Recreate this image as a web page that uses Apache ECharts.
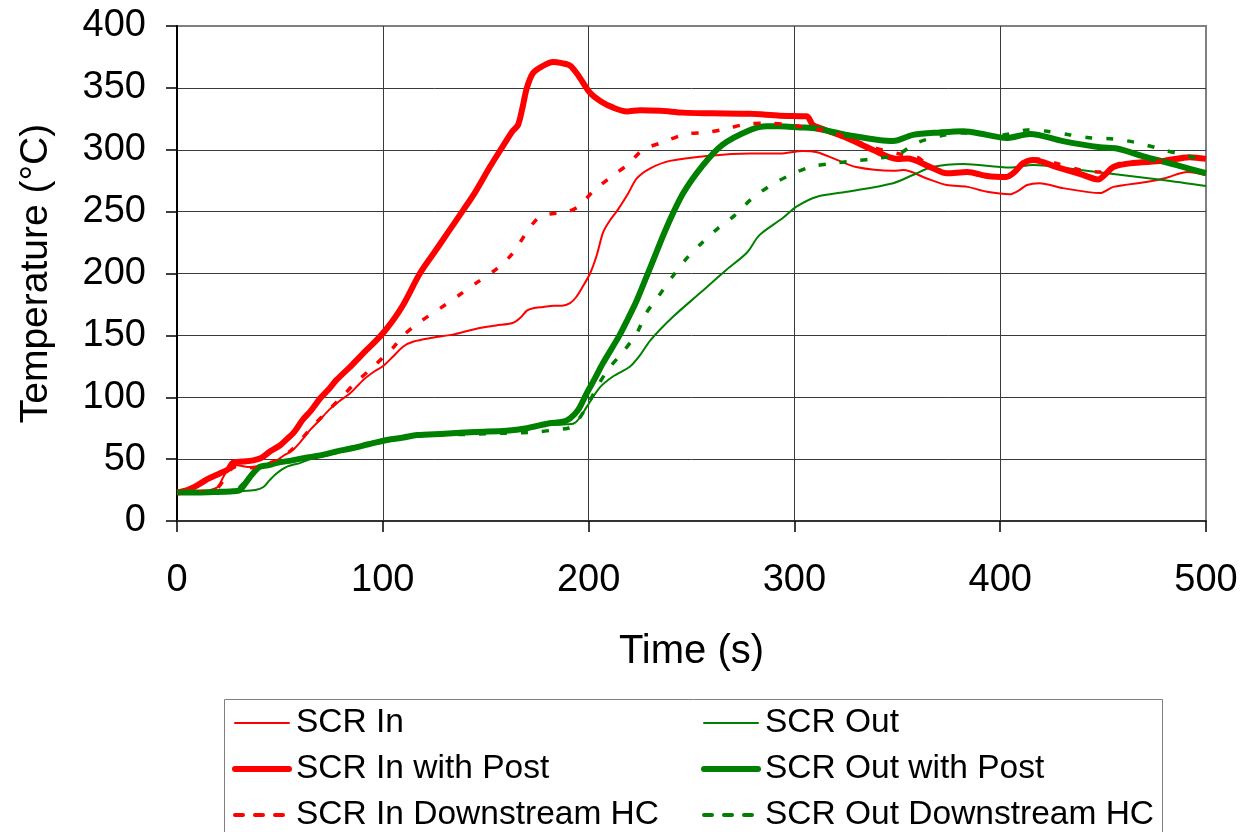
<!DOCTYPE html>
<html>
<head>
<meta charset="utf-8">
<script src="https://cdn.jsdelivr.net/npm/echarts@6/dist/echarts.min.js"></script>
<style>
html,body{margin:0;padding:0;background:#fff;}
#chart{width:1260px;height:832px;}
</style>
</head>
<body>
<div id="chart"></div>
<script>
// ---- Data (time in s, temperature in °C) ----
const xTicks = [0, 100, 200, 300, 400, 500];
const yTicks = [0, 50, 100, 150, 200, 250, 300, 350, 400];

const seriesNames = ["SCR In", "SCR Out", "SCR In with Post", "SCR Out with Post", "SCR In Downstream HC", "SCR Out Downstream HC"];

const scrIn = [[0,23],[10,23.5],[19.4,27],[22.5,35.6],[25,42],[29,45],[35.5,43.6],[40,43.6],[44,45],[48.5,49],[52,53],[56,57],[60,64],[64.6,73.5],[69,81],[74,90],[79,97],[84,103],[90.5,114],[96,121],[100,125],[105,133],[110,141],[115,145],[124,148],[135,151],[147,156],[155,158],[163,160],[166.7,164],[170,170],[173,172],[178,173],[183,174],[187,174],[191,176],[194,181],[197,189],[200.7,200],[204,215],[207,233],[210,242],[214,251],[219,264],[223.5,277],[230,285],[239.5,291],[257.5,295],[278.5,297],[293,297],[304,299],[311,298],[319,293],[330,286],[348,283],[353,283.6],[364,277],[374,271.5],[384,270],[393.6,266],[404.7,264],[409,267],[413,271.5],[419,273],[430.5,269],[448.5,265],[455,270],[471,274],[480,277],[491,282],[500,279.6]];

const scrOut = [[0,23],[10,23],[20,23],[30,24],[38,25],[42,27.5],[45,33],[48.5,38.6],[53,43.6],[60,47],[65,50],[75,54],[85,59],[100,65],[110,68],[120,70],[140,71],[160,73],[170,75],[181,77.6],[188,78],[193,79],[196,84],[199,92],[205.5,108],[212,117],[220,124.6],[225,134],[230,146],[241,165],[254,184],[267,203],[277,217],[283,231],[294.5,245],[301,254],[311,262],[325.5,266],[348,273],[357.6,279.6],[367,286],[382,288.5],[404.7,285.6],[416,287.6],[439,283.6],[455,280.4],[479,275.6],[500,270.7]];

const scrInPost = [[0,23],[5,25],[10,29],[15,34],[21,38.6],[25,42],[27,47],[32,48],[37,49],[41,51],[45,56],[50,61],[53,65.5],[57,72],[61,81.6],[65,89],[69.5,99],[73.5,106],[77.5,114],[85,126],[92,138],[98.6,149],[104,160],[110,175],[118,200],[125,217],[132,234],[139,251],[145,266],[152,286],[158,302],[163,315],[165.7,320],[168,335],[170,350],[173,362],[177,367],[182.7,371],[187,370],[191,368],[195,360],[200.7,346],[206,339],[212,334],[218.6,331],[225,332],[235,331.5],[246,330],[260,329.5],[278.5,329],[293,327.5],[306,327],[309,320],[315,316],[325.5,309.5],[338,300],[350,292.6],[355,293],[366,286],[374,281],[384,282],[393.6,278.8],[403,278],[407,282],[411,289],[416,291.7],[427.5,286],[439,280.4],[447.6,276],[451,280],[455,286],[463,289],[479,291],[492,294],[500,292.6]];

const scrOutPost = [[0,23],[10,23],[20,23.5],[27,24],[30.6,25],[33,30],[35.5,35.6],[40,43.6],[44,45],[48.5,47],[56,49],[62,51],[69.5,53],[77,56],[85.7,59],[93,62],[102,65.5],[110,67.5],[116.6,69.5],[130,70.5],[145,72],[160,73],[170,75],[181,79],[187,80],[191,83],[195,90],[199,103],[203,115],[207,127.6],[215,150],[219,163],[223.5,178.6],[230,205],[238,237.6],[246,265],[255.6,287.6],[265,304],[278.5,316],[286.6,319],[293,319],[302.7,318],[309,317.6],[325.5,312],[348,307],[357.6,312],[370.7,314],[382,315],[393.6,312],[403,309.5],[414.5,312.7],[430.5,307],[448.5,302],[456.7,301],[471,294],[487,287],[500,281]];

const scrInDown = [[0,23],[10,23.5],[19,26],[22,31.6],[25,40],[29,44],[35,43],[40,44],[45,47],[48.5,49],[56,58],[64.6,74],[72,87],[80,100],[86.5,111.5],[95,124],[100,132],[105,140],[110,150],[119,162],[128,172],[137.5,183],[146,193],[155.5,204],[163,216],[169,231],[175.5,245],[181,248],[186,249],[190,250],[195,254],[202,266],[210,277],[219,288],[226.5,300],[236,306],[247,312.6],[257.5,314],[267,317],[277.5,321],[287,321.5],[298,320],[317,314.6],[328.5,308],[338,302],[350,297],[359.6,294],[367,285],[377,282],[390,279.6],[403,278],[410,287],[418,292.5],[427.5,289],[438,284],[448.5,282],[453,285],[458,289],[479,291],[497,293],[500,292]];

const scrOutDown = [[0,23],[10,23],[20,23],[28,24],[32,30],[36,38],[40,43],[45,45.5],[50,47],[56,49],[65,52],[75,55],[85,59],[100,64],[110,67],[120,69],[140,70],[160,71],[175,72],[183,73.5],[190,75],[193,77.6],[199,92],[204,108],[210,123.6],[216.7,136.6],[223.5,152],[228,168],[233.7,181],[240.5,197],[247,211],[255,224.6],[263,236.7],[271,247],[279,260],[288,270.7],[298,279.6],[307.6,286],[319,289],[329.5,291],[340,293],[350,296],[359.6,305.7],[370.7,311],[382,313.6],[401.5,312],[413,316],[422.7,315],[434,312],[444.6,309.5],[455,308.7],[465.5,306],[476,301.5],[486,297],[497,292.6],[500,291]];

// ---- Chart ----
const RED = '#FF0000', GREEN = '#008000';
const FONT = "'Liberation Sans', Arial, sans-serif";
const DASH = [7, 14];
const chart = echarts.init(document.getElementById('chart'), null, {renderer: 'canvas'});

function mk(name, data, color, width, dashed) {
  return {
    name: name, type: 'line', data: data, symbol: 'none', showSymbol: false, smooth: 0.3,
    lineStyle: {color: color, width: width, type: dashed ? DASH : 'solid', cap: 'butt', join: 'round'},
    itemStyle: {color: color}, animation: false
  };
}

function legItem(name, color, width, dashed) {
  return {
    name: name,
    itemStyle: {opacity: 0, color: color},
    lineStyle: {color: color, width: width, type: dashed ? [8, 12] : 'solid', cap: 'round'}
  };
}

const legendCommon = {
  orient: 'vertical', top: 706, itemWidth: 54, itemHeight: 14, itemGap: 12, padding: 0,
  textStyle: {fontFamily: FONT, fontSize: 33.5, color: '#000', padding: [0, 0, 0, 2]},
  selectedMode: false
};

chart.setOption({
  backgroundColor: '#fff',
  animation: false,
  textStyle: {fontFamily: FONT},
  grid: {left: 177, right: 54, top: 26, bottom: 311, show: true, borderColor: '#808080', borderWidth: 2, backgroundColor: 'transparent'},
  xAxis: {
    type: 'value', min: xTicks[0], max: xTicks[xTicks.length - 1], interval: 100,
    name: 'Time (s)', nameLocation: 'middle', nameGap: 111,
    nameTextStyle: {fontSize: 40, color: '#000', fontFamily: FONT},
    axisLine: {show: true, onZero: false, lineStyle: {color: '#333', width: 2}},
    axisTick: {show: true, inside: false, length: 11, lineStyle: {color: '#000', width: 1.5}},
    axisLabel: {fontSize: 38, color: '#000', margin: 41, fontFamily: FONT},
    splitLine: {show: true, showMaxLine: false, lineStyle: {color: '#3a3a3a', width: 1}}
  },
  yAxis: {
    type: 'value', min: yTicks[0], max: yTicks[yTicks.length - 1], interval: 50,
    name: 'Temperature (°C)', nameLocation: 'middle', nameGap: 121, nameRotate: 90,
    nameTextStyle: {fontSize: 39, color: '#000', fontFamily: FONT},
    axisLine: {show: true, lineStyle: {color: '#000', width: 2}},
    axisTick: {show: true, inside: false, length: 11, lineStyle: {color: '#000', width: 1.5}},
    axisLabel: {fontSize: 38, color: '#000', margin: 31, fontFamily: FONT},
    splitLine: {show: true, showMaxLine: false, lineStyle: {color: '#3a3a3a', width: 1}}
  },
  legend: [
    Object.assign({}, legendCommon, {left: 232, data: [
      legItem(seriesNames[0], RED, 2, false),
      legItem(seriesNames[2], RED, 6, false),
      legItem(seriesNames[4], RED, 4, true)
    ]}),
    Object.assign({}, legendCommon, {left: 701, data: [
      legItem(seriesNames[1], GREEN, 2, false),
      legItem(seriesNames[3], GREEN, 6, false),
      legItem(seriesNames[5], GREEN, 4, true)
    ]})
  ],
  graphic: [{
    type: 'rect', left: 222, top: 697, z: -1,
    shape: {width: 938, height: 150},
    style: {fill: 'none', stroke: '#808080', lineWidth: 1}
  }],
  series: [
    mk(seriesNames[0], scrIn, RED, 2, false),
    mk(seriesNames[1], scrOut, GREEN, 2, false),
    mk(seriesNames[2], scrInPost, RED, 6, false),
    mk(seriesNames[3], scrOutPost, GREEN, 6, false),
    mk(seriesNames[4], scrInDown, RED, 3.5, true),
    mk(seriesNames[5], scrOutDown, GREEN, 3.5, true)
  ]
});
</script>
</body>
</html>
